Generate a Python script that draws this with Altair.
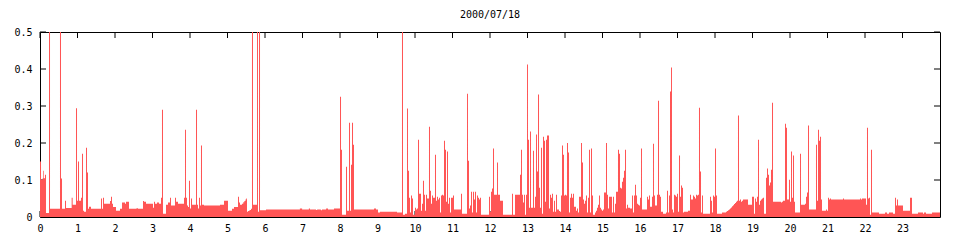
import altair as alt
import pandas as pd

TITLE = "2000/07/18"
x_ticks = list(range(24))
y_ticks = [0, 0.1, 0.2, 0.3, 0.4, 0.5]
DAY_END = 24.0

# (start hour, value) step pairs; each value holds until the next start hour
steps_00_06 = [
    (0.000, 0.150), (0.027, 0.101), (0.071, 0.105), (0.089, 0.125), (0.107, 0.105),
    (0.133, 0.114), (0.160, 0.011), (0.240, 0.600), (0.267, 0.022), (0.533, 0.600),
    (0.560, 0.104), (0.587, 0.022), (0.667, 0.044), (0.693, 0.024), (0.844, 0.052),
    (0.871, 0.033), (0.960, 0.294), (0.987, 0.044), (1.013, 0.150), (1.040, 0.044),
    (1.093, 0.052), (1.120, 0.171), (1.147, 0.017), (1.173, 0.014), (1.227, 0.187),
    (1.253, 0.120), (1.280, 0.022), (1.307, 0.028), (1.360, 0.022), (1.627, 0.050),
    (1.653, 0.022), (1.680, 0.052), (1.707, 0.036), (1.867, 0.043), (1.893, 0.055),
    (1.920, 0.036), (1.947, 0.027), (2.027, 0.017), (2.133, 0.022), (2.187, 0.039),
    (2.267, 0.036), (2.293, 0.041), (2.373, 0.022), (2.578, 0.024), (2.604, 0.022),
    (2.747, 0.043), (2.773, 0.041), (2.827, 0.036), (3.013, 0.025), (3.040, 0.041),
    (3.067, 0.036), (3.120, 0.039), (3.173, 0.036), (3.227, 0.052), (3.253, 0.290),
    (3.280, 0.009), (3.360, 0.033), (3.413, 0.039), (3.467, 0.052), (3.493, 0.031),
    (3.600, 0.052), (3.627, 0.041), (3.680, 0.036), (3.840, 0.052), (3.867, 0.236),
    (3.893, 0.052), (3.920, 0.031), (3.947, 0.027), (3.973, 0.098), (4.000, 0.023),
    (4.027, 0.050), (4.053, 0.033), (4.160, 0.290), (4.187, 0.033), (4.213, 0.023),
    (4.240, 0.052), (4.267, 0.031), (4.293, 0.193), (4.320, 0.033), (4.373, 0.031),
    (4.800, 0.033), (4.907, 0.044), (5.013, 0.017), (5.120, 0.022), (5.173, 0.027),
    (5.280, 0.055), (5.307, 0.039), (5.333, 0.033), (5.387, 0.036), (5.420, 0.040),
    (5.450, 0.043), (5.480, 0.047), (5.500, 0.050), (5.520, 0.014), (5.547, 0.016),
    (5.587, 0.019), (5.627, 0.022), (5.653, 0.600), (5.680, 0.033), (5.787, 0.600),
    (5.813, 0.014), (5.840, 0.600), (5.867, 0.018),
]

steps_06_12 = [
    (6.027, 0.020), (6.930, 0.023), (6.990, 0.020), (7.170, 0.023), (7.200, 0.020),
    (7.360, 0.019), (7.390, 0.020), (7.490, 0.018), (7.520, 0.020), (7.630, 0.023),
    (7.680, 0.020), (7.840, 0.023), (8.000, 0.325), (8.027, 0.182), (8.053, 0.006),
    (8.160, 0.136), (8.187, 0.017), (8.240, 0.255), (8.267, 0.017), (8.293, 0.141),
    (8.320, 0.255), (8.347, 0.195), (8.373, 0.020), (8.907, 0.023), (8.960, 0.020),
    (9.013, 0.012), (9.067, 0.014), (9.520, 0.012), (9.653, 0.600), (9.680, 0.006),
    (9.733, 0.009), (9.787, 0.293), (9.813, 0.125), (9.840, 0.052), (9.867, 0.012),
    (9.893, 0.058), (9.920, 0.050), (9.947, 0.006), (10.000, 0.025), (10.027, 0.020),
    (10.053, 0.023), (10.080, 0.209), (10.107, 0.063), (10.160, 0.017), (10.187, 0.036),
    (10.213, 0.098), (10.240, 0.060), (10.267, 0.017), (10.293, 0.060), (10.320, 0.050),
    (10.373, 0.244), (10.400, 0.071), (10.427, 0.036), (10.453, 0.058), (10.480, 0.052),
    (10.533, 0.168), (10.560, 0.044), (10.587, 0.055), (10.613, 0.047), (10.640, 0.052),
    (10.667, 0.012), (10.693, 0.058), (10.720, 0.060), (10.747, 0.058), (10.773, 0.206),
    (10.800, 0.182), (10.827, 0.041), (10.853, 0.177), (10.880, 0.036), (10.907, 0.052),
    (10.933, 0.012), (10.960, 0.052), (11.013, 0.058), (11.040, 0.020), (11.227, 0.063),
    (11.253, 0.009), (11.387, 0.333), (11.413, 0.152), (11.440, 0.023), (11.467, 0.031),
    (11.493, 0.068), (11.520, 0.012), (11.547, 0.068), (11.573, 0.047), (11.600, 0.068),
    (11.627, 0.012), (11.653, 0.058), (11.680, 0.052), (11.707, 0.047), (11.733, 0.052),
    (11.760, 0.006), (11.973, 0.055),
]

steps_12_18 = [
    (12.000, 0.014), (12.027, 0.068), (12.053, 0.077), (12.080, 0.185), (12.107, 0.060),
    (12.187, 0.147), (12.213, 0.060), (12.267, 0.044), (12.347, 0.006), (12.587, 0.063),
    (12.613, 0.006), (12.667, 0.060), (12.800, 0.114), (12.827, 0.182), (12.853, 0.060),
    (12.880, 0.039), (12.907, 0.060), (12.933, 0.006), (12.960, 0.060), (12.987, 0.412),
    (13.013, 0.209), (13.040, 0.025), (13.067, 0.231), (13.093, 0.025), (13.147, 0.179),
    (13.173, 0.025), (13.200, 0.055), (13.227, 0.223), (13.253, 0.123), (13.280, 0.331),
    (13.307, 0.079), (13.333, 0.025), (13.360, 0.187), (13.387, 0.009), (13.413, 0.217),
    (13.440, 0.206), (13.467, 0.041), (13.493, 0.209), (13.520, 0.220), (13.573, 0.023),
    (13.600, 0.060), (13.627, 0.052), (13.653, 0.063), (13.680, 0.014), (13.707, 0.044),
    (13.733, 0.014), (13.760, 0.060), (13.787, 0.020), (13.840, 0.016), (13.867, 0.014),
    (13.893, 0.058), (13.920, 0.193), (13.947, 0.168), (13.973, 0.058), (14.000, 0.060),
    (14.027, 0.058), (14.053, 0.200), (14.080, 0.174), (14.107, 0.012), (14.133, 0.052),
    (14.160, 0.063), (14.187, 0.052), (14.213, 0.063), (14.240, 0.028), (14.293, 0.017),
    (14.320, 0.023), (14.347, 0.012), (14.373, 0.055), (14.427, 0.200), (14.453, 0.147),
    (14.480, 0.047), (14.507, 0.036), (14.533, 0.044), (14.560, 0.058), (14.587, 0.012),
    (14.613, 0.052), (14.640, 0.182), (14.667, 0.012), (14.693, 0.185), (14.720, 0.058),
    (14.747, 0.006), (14.800, 0.012), (14.827, 0.017), (14.853, 0.025), (14.880, 0.033),
    (14.907, 0.058), (14.933, 0.025), (14.960, 0.020), (14.987, 0.017), (15.013, 0.020),
    (15.040, 0.066), (15.093, 0.200), (15.120, 0.060), (15.147, 0.023), (15.173, 0.055),
    (15.253, 0.012), (15.280, 0.055), (15.307, 0.012), (15.333, 0.036), (15.360, 0.068),
    (15.413, 0.182), (15.440, 0.171), (15.467, 0.079), (15.493, 0.077), (15.520, 0.095),
    (15.547, 0.106), (15.573, 0.125), (15.600, 0.182), (15.627, 0.023), (15.653, 0.033),
    (15.680, 0.025), (15.733, 0.023), (15.787, 0.058), (15.813, 0.012), (15.840, 0.058),
    (15.867, 0.087), (15.893, 0.058), (15.920, 0.036), (15.947, 0.033), (15.973, 0.031),
    (16.000, 0.052), (16.027, 0.185), (16.053, 0.020), (16.187, 0.055), (16.213, 0.047),
    (16.240, 0.058), (16.267, 0.028), (16.320, 0.055), (16.347, 0.198), (16.373, 0.058),
    (16.400, 0.031), (16.453, 0.060), (16.480, 0.314), (16.507, 0.060), (16.533, 0.055),
    (16.560, 0.014), (16.613, 0.009), (16.693, 0.012), (16.720, 0.071), (16.747, 0.012),
    (16.773, 0.058), (16.800, 0.339), (16.827, 0.404), (16.853, 0.020), (16.880, 0.012),
    (16.907, 0.060), (16.933, 0.058), (16.960, 0.055), (16.987, 0.063), (17.013, 0.014),
    (17.040, 0.166), (17.067, 0.055), (17.093, 0.085), (17.120, 0.079), (17.147, 0.012),
    (17.173, 0.014), (17.280, 0.017), (17.333, 0.060), (17.360, 0.047), (17.413, 0.058),
    (17.440, 0.055), (17.467, 0.050), (17.493, 0.060), (17.520, 0.058), (17.547, 0.060),
    (17.573, 0.295), (17.600, 0.123), (17.627, 0.012), (17.653, 0.058), (17.680, 0.009),
    (17.867, 0.055), (17.893, 0.044), (17.920, 0.012), (17.947, 0.058), (17.973, 0.055),
]

steps_18_24 = [
    (18.000, 0.185), (18.027, 0.058), (18.053, 0.009), (18.187, 0.012), (18.293, 0.014),
    (18.320, 0.016), (18.347, 0.018), (18.373, 0.020), (18.400, 0.023), (18.427, 0.026),
    (18.453, 0.029), (18.480, 0.032), (18.507, 0.035), (18.533, 0.038), (18.560, 0.041),
    (18.587, 0.044), (18.613, 0.274), (18.640, 0.044), (18.667, 0.047), (18.693, 0.041),
    (18.720, 0.044), (18.747, 0.047), (18.880, 0.033), (18.987, 0.055), (19.040, 0.009),
    (19.067, 0.050), (19.093, 0.041), (19.120, 0.055), (19.147, 0.209), (19.173, 0.033),
    (19.200, 0.044), (19.227, 0.047), (19.253, 0.050), (19.280, 0.052), (19.307, 0.009),
    (19.360, 0.106), (19.387, 0.131), (19.413, 0.114), (19.440, 0.085), (19.467, 0.093),
    (19.493, 0.128), (19.520, 0.309), (19.547, 0.041), (19.760, 0.039), (19.787, 0.041),
    (19.813, 0.044), (19.867, 0.252), (19.893, 0.241), (19.920, 0.047), (19.973, 0.101),
    (20.000, 0.041), (20.027, 0.177), (20.053, 0.052), (20.080, 0.166), (20.107, 0.041),
    (20.133, 0.012), (20.267, 0.171), (20.293, 0.033), (20.400, 0.036), (20.427, 0.055),
    (20.453, 0.066), (20.480, 0.247), (20.507, 0.020), (20.693, 0.195), (20.720, 0.044),
    (20.747, 0.236), (20.773, 0.206), (20.800, 0.217), (20.827, 0.047), (20.853, 0.017),
    (20.960, 0.020), (20.987, 0.017), (21.013, 0.052), (21.040, 0.047), (21.067, 0.050),
    (21.093, 0.047), (21.413, 0.050), (21.440, 0.047), (21.867, 0.050), (21.893, 0.047),
    (21.920, 0.050), (22.027, 0.033), (22.053, 0.241), (22.080, 0.050), (22.107, 0.052),
    (22.133, 0.006), (22.160, 0.182), (22.187, 0.012), (22.373, 0.009), (22.533, 0.012),
    (22.587, 0.009), (22.640, 0.012), (22.747, 0.009), (22.800, 0.052), (22.827, 0.031),
    (22.853, 0.047), (22.880, 0.031), (23.013, 0.017), (23.200, 0.052), (23.253, 0.009),
    (23.413, 0.012), (23.547, 0.009), (23.573, 0.012), (23.627, 0.009), (23.787, 0.012),
]

rows = steps_00_06 + steps_06_12 + steps_12_18 + steps_18_24
rows = rows + [(DAY_END, rows[-1][1])]
df = pd.DataFrame(rows, columns=["hour", "rate"])
df_xt = pd.DataFrame({"hour": x_ticks})
df_yt = pd.DataFrame({"rate": y_ticks})

FONT = "DejaVu Sans Mono"
W, H = 900, 185
TICK = 6
xscale = alt.Scale(domain=[0, DAY_END], nice=False, zero=False)
yscale = alt.Scale(domain=[0, 0.5], nice=False)

x_axis = alt.Axis(
    values=x_ticks, format="d", title=None, ticks=False, tickSize=0,
    domain=False, grid=False, labelPadding=6, labelFont=FONT,
    labelFontSize=10, labelColor="black", labelFlush=False)
y_axis = alt.Axis(
    values=y_ticks, title=None, ticks=False, tickSize=0, domain=False,
    grid=False, labelPadding=8, labelFont=FONT, labelFontSize=10,
    labelColor="black", labelFlush=False,
    labelExpr="datum.value == 0 ? '0' : format(datum.value, '.1f')")

X = alt.X("hour:Q", scale=xscale, axis=x_axis)
Y = alt.Y("rate:Q", scale=yscale, axis=y_axis)

area = alt.Chart(df).mark_area(
    interpolate="step-after", color="#ff5555", clip=True
).encode(x=X, y=Y)

xt = alt.Chart(df_xt)
bottom_ticks = xt.mark_rule(color="black").encode(
    x=X, y=alt.value(H), y2=alt.value(H - TICK))
top_ticks = xt.mark_rule(color="black").encode(
    x=X, y=alt.value(0), y2=alt.value(TICK))
yt = alt.Chart(df_yt)
left_ticks = yt.mark_rule(color="black").encode(
    y=Y, x=alt.value(0), x2=alt.value(TICK))
right_ticks = yt.mark_rule(color="black").encode(
    y=Y, x=alt.value(W), x2=alt.value(W - TICK))

chart = alt.layer(bottom_ticks, top_ticks, left_ticks, right_ticks, area).properties(
    width=W, height=H,
    title=alt.TitleParams(TITLE, font=FONT, fontSize=10, fontWeight="normal",
                          color="black", anchor="middle", offset=7),
    autosize=alt.AutoSizeParams(type="none"),
    padding={"left": 40, "top": 32, "right": 20, "bottom": 23},
    background="white",
).configure_view(stroke="black", strokeWidth=1)

chart.save("out.html", embed_options={"renderer": "svg", "actions": False})
